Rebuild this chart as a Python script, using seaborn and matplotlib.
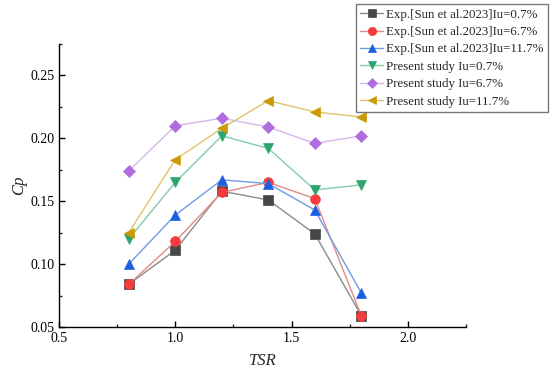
import matplotlib
matplotlib.use("Agg")
import matplotlib.pyplot as plt
import seaborn as sns
import pandas as pd
from matplotlib.ticker import MultipleLocator

tsr = [0.8, 1.0, 1.2, 1.4, 1.6, 1.8]
exp_07 = [0.084, 0.111, 0.158, 0.151, 0.124, 0.059]
exp_67 = [0.084, 0.118, 0.157, 0.165, 0.152, 0.059]
exp_117 = [0.100, 0.139, 0.167, 0.164, 0.143, 0.077]
pre_07 = [0.120, 0.165, 0.202, 0.192, 0.159, 0.163]
pre_67 = [0.174, 0.210, 0.216, 0.209, 0.196, 0.202]
pre_117 = [0.125, 0.183, 0.208, 0.230, 0.221, 0.217]

labels = ["Exp.[Sun et al.2023]Iu=0.7%", "Exp.[Sun et al.2023]Iu=6.7%",
          "Exp.[Sun et al.2023]Iu=11.7%", "Present study Iu=0.7%",
          "Present study Iu=6.7%", "Present study Iu=11.7%"]
series = [exp_07, exp_67, exp_117, pre_07, pre_67, pre_117]
markers = ["s", "o", "^", "v", "D", "<"]
mcolors = ["#474747", "#f53b3b", "#1a5fe0", "#2ca66e", "#b06bdf", "#cc9a06"]
lcolors = ["#8a8a8a", "#e08a8a", "#6f9ce6", "#82cbab", "#d7b6ea", "#e0c36a"]
msizes = [6.5, 7, 7.5, 7.5, 6.5, 7.5]

sns.set_theme(style="white")
plt.rcParams["font.family"] = ["Liberation Serif", "DejaVu Serif"]
plt.rcParams["mathtext.fontset"] = "stix"

fig = plt.figure(figsize=(5.5, 3.86), dpi=100)
ax = fig.add_axes([59/550, 1-327/386, (466-59)/550, (327-44)/386])

for lab, vals, m, mc, lc, ms in zip(labels, series, markers, mcolors, lcolors, msizes):
    df = pd.DataFrame({"TSR": tsr, "Cp": vals})
    sns.lineplot(data=df, x="TSR", y="Cp", ax=ax, color=lc, lw=1.0,
                 marker=m, markersize=ms, markerfacecolor=mc,
                 markeredgecolor=mc, markeredgewidth=0.5, label=lab)

ax.set_xlim(0.5, 2.25)
ax.set_ylim(0.05, 0.275)
ax.xaxis.set_major_locator(MultipleLocator(0.5))
ax.xaxis.set_minor_locator(MultipleLocator(0.25))
ax.yaxis.set_major_locator(MultipleLocator(0.05))
ax.yaxis.set_minor_locator(MultipleLocator(0.025))
ax.set_xticks([0.5, 1.0, 1.5, 2.0])
ax.set_xticklabels(["0.5", "1.0", "1.5", "2.0"])
ax.set_yticks([0.05, 0.10, 0.15, 0.20, 0.25])
ax.set_yticklabels(["0.05", "0.10", "0.15", "0.20", "0.25"])
ax.tick_params(which="major", direction="in", length=4, width=1, labelsize=10,
               bottom=True, left=True, colors="black")
ax.tick_params(which="minor", direction="in", length=2.5, width=1,
               bottom=True, left=True)
for s in ["top", "right"]:
    ax.spines[s].set_visible(False)
for s in ["left", "bottom"]:
    ax.spines[s].set_color("black")
    ax.spines[s].set_linewidth(1)

ax.set_xlabel("TSR", fontsize=12, fontstyle="italic", labelpad=6)
ax.set_ylabel("Cp", fontsize=12, fontstyle="italic", labelpad=2)

ax.get_legend().remove()
h, l = ax.get_legend_handles_labels()
leg = fig.legend(h, l, loc="upper right", bbox_to_anchor=(548/550, 1-4/386),
                 fontsize=9.3, frameon=True, fancybox=False, handlelength=1.8,
                 handletextpad=0.2, borderpad=0.35, labelspacing=0.42,
                 borderaxespad=0, markerscale=0.85)
leg.get_frame().set_edgecolor("#555555")
leg.get_frame().set_linewidth(1)

fig.savefig("out.png", dpi=100)
